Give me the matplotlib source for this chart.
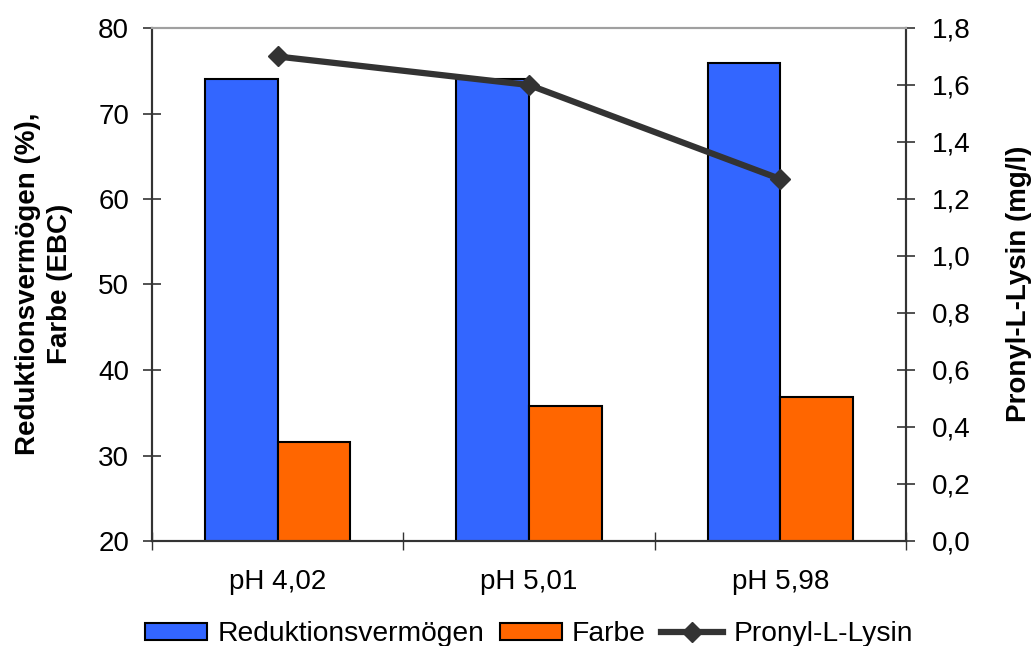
import numpy as np
import matplotlib
matplotlib.use("Agg")
import matplotlib.pyplot as plt

plt.rcParams['font.family'] = ['Liberation Sans', 'DejaVu Sans']

# Data
categories = ["pH 4,02", "pH 5,01", "pH 5,98"]
reduktion = [74.0, 74.0, 75.9]      # Reduktionsvermögen (%)
farbe = [31.6, 35.8, 36.8]          # Farbe (EBC)
pronyl = [1.70, 1.60, 1.27]         # Pronyl-L-Lysin (mg/l)

left_ticks = [20, 30, 40, 50, 60, 70, 80]
right_ticks = [0.0, 0.2, 0.4, 0.6, 0.8, 1.0, 1.2, 1.4, 1.6, 1.8]

blue = "#3366FF"
orange = "#FF6600"
line_col = "#333333"
axis_col = "#333333"
FS = 20

W, H = 1036, 646
fig = plt.figure(figsize=(W / 100, H / 100), dpi=100)
x0, x1, y0, y1 = 152, 906, 28, 541
ax = fig.add_axes([x0 / W, 1 - y1 / H, (x1 - x0) / W, (y1 - y0) / H])
ax2 = ax.twinx()

x = np.arange(len(categories))
w = 0.2885
b1 = ax.bar(x - w / 2, reduktion, w, color=blue, edgecolor="black", linewidth=1.5,
            label="Reduktionsvermögen", zorder=2)
b2 = ax.bar(x + w / 2, farbe, w, color=orange, edgecolor="black", linewidth=1.5,
            label="Farbe", zorder=2)
ln, = ax2.plot(x, pronyl, color=line_col, linewidth=4.5, marker="D", markersize=10,
               markeredgewidth=1, markeredgecolor=line_col, markerfacecolor=line_col,
               label="Pronyl-L-Lysin", solid_joinstyle="miter")

ax.set_xlim(-0.5, len(categories) - 0.5)
ax.set_ylim(20, 80)
ax2.set_ylim(0, 1.8)

# Left axis
ax.set_yticks(left_ticks)
ax.set_yticklabels([str(v) for v in left_ticks], fontsize=FS)
ax.tick_params(axis="y", direction="inout", length=13, width=1.2, color=axis_col, pad=10)

# Category axis: labels at centres, tick marks at group boundaries
ax.set_xticks(x)
ax.set_xticklabels(categories, fontsize=FS)
ax.set_xticks(np.arange(-0.5, len(categories)), minor=True)
ax.tick_params(axis="x", which="major", length=0, pad=20)
ax.tick_params(axis="x", which="minor", direction="inout", length=13, width=1.0, color=axis_col)

# Right axis
ax2.set_yticks(right_ticks)
ax2.set_yticklabels([f"{v:.1f}".replace(".", ",") for v in right_ticks], fontsize=FS)
ax2.tick_params(axis="y", direction="inout", length=13, width=1.2, color=axis_col, pad=12)

for a in (ax, ax2):
    for s in ("left", "right", "bottom"):
        a.spines[s].set_color(axis_col)
        a.spines[s].set_linewidth(1.5)
    a.spines["top"].set_color("#A0A0A0")
    a.spines["top"].set_linewidth(1.5)

ax.set_ylabel("Reduktionsvermögen (%),\nFarbe (EBC)", fontsize=FS, fontweight="bold",
              ha="center", va="center", linespacing=1.3)
ax.yaxis.set_label_coords((44 - x0) / (x1 - x0), (y1 - 284) / (y1 - y0))
ax2.set_ylabel("Pronyl-L-Lysin (mg/l)", fontsize=FS, fontweight="bold",
               ha="center", va="center", rotation=90)
ax2.yaxis.set_label_coords((1019 - x0) / (x1 - x0), (y1 - 284) / (y1 - y0))

fig.legend(handles=[b1, b2, ln], loc="center", bbox_to_anchor=(529 / W, 1 - 634 / H),
           ncol=3, frameon=False, fontsize=20.3, handlelength=2.2, handletextpad=0.36,
           columnspacing=0.55, handleheight=0.55, borderpad=0)

fig.savefig("out.png", dpi=100)
